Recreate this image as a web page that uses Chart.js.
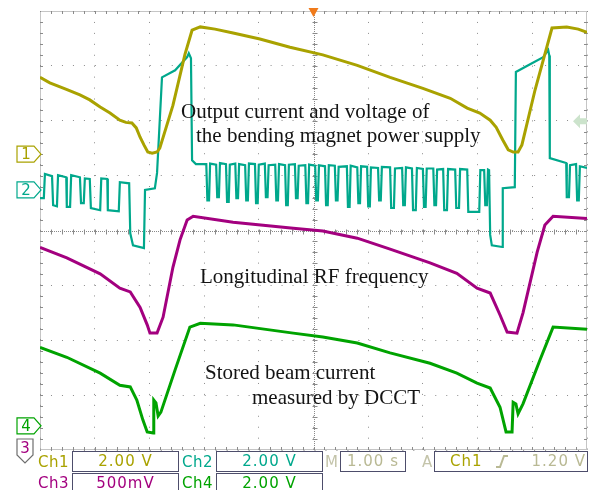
<!DOCTYPE html>
<html>
<head>
<meta charset="utf-8">
<script src="https://cdn.jsdelivr.net/npm/chart.js@4"></script>
<style>
  body { margin: 0; background: #fff; }
  #wrap { position: relative; width: 592px; height: 490px; overflow: hidden; background: #fff; }
  #scope { position: absolute; left: 0; top: 0; }
  .note { position: absolute; font-family: "Liberation Serif", "Times New Roman", serif; font-size: 21px; line-height: 21px; color: #141414; white-space: nowrap; }
  .lbl { position: absolute; font-family: "DejaVu Sans", sans-serif; font-size: 15px; line-height: 20px; letter-spacing: 0.5px; white-space: nowrap; }
  .box { position: absolute; box-sizing: border-box; height: 21px; border: 1.5px solid #4d4d6b; font-family: "DejaVu Sans", sans-serif; font-size: 15px; line-height: 18px; letter-spacing: 1px; text-align: center; white-space: nowrap; }
</style>
</head>
<body>
<div id="wrap">
  <canvas id="scope" width="592" height="490"></canvas>

  <div class="note" style="left:181px; top:101px;">Output current and voltage of</div>
  <div class="note" style="left:196px; top:125px;">the bending magnet power supply</div>
  <div class="note" style="left:200px; top:266px;">Longitudinal RF frequency</div>
  <div class="note" style="left:205px; top:362px;">Stored beam current</div>
  <div class="note" style="left:252px; top:387px;">measured by DCCT</div>

  <div class="lbl" style="left:38px; top:452px; color:#a9a200;">Ch1</div>
  <div class="box" style="left:72px; top:451px; width:107px; color:#a9a200;">2.00 V</div>
  <div class="lbl" style="left:182px; top:452px; color:#00a88c;">Ch2</div>
  <div class="box" style="left:216px; top:451px; width:107px; color:#00a88c;">2.00 V</div>
  <div class="lbl" style="left:325px; top:452px; color:#c4c4aa;">M</div>
  <div class="box" style="left:340px; top:451px; width:66px; color:#b9b994;">1.00 s</div>
  <div class="lbl" style="left:422px; top:452px; color:#c4c4aa;">A</div>
  <div class="box" style="left:434px; top:451px; width:154px; text-align:left;">
    <span style="position:absolute; left:15px; color:#a9a200;">Ch1</span>
    <svg style="position:absolute; left:60px; top:3px;" width="14" height="13"><polyline points="1,12 5,12 9,1 13,1" fill="none" stroke="#b9b994" stroke-width="2"/></svg>
    <span style="position:absolute; right:1px; color:#b9b994;">1.20 V</span>
  </div>

  <div class="lbl" style="left:38px; top:473px; color:#a3007f;">Ch3</div>
  <div class="box" style="left:72px; top:473px; width:107px; color:#a3007f;">500mV</div>
  <div class="lbl" style="left:182px; top:473px; color:#00a300;">Ch4</div>
  <div class="box" style="left:216px; top:473px; width:107px; color:#00a300;">2.00 V</div>
</div>

<script>
// screen units: time in divisions (1.00 s/div, 10 div), level in divisions (8 div)
const ch1Time = [0, 0.18, 0.46, 0.73, 0.91, 1.10, 1.28, 1.46, 1.57, 1.68, 1.76, 1.83, 1.90, 1.97, 2.05, 2.14, 2.19, 2.43, 2.65, 2.78, 2.93, 3.20, 3.53, 4.02, 4.57, 5.17, 5.80, 6.40, 7.00, 7.50, 7.81, 8.04, 8.23, 8.34, 8.46, 8.56, 8.65, 8.74, 8.81, 9.05, 9.27, 9.36, 9.63, 9.84, 10];
const ch1Level = [6.79, 6.69, 6.58, 6.47, 6.38, 6.25, 6.14, 6.01, 5.97, 5.96, 5.87, 5.70, 5.56, 5.43, 5.41, 5.43, 5.50, 6.28, 7.21, 7.65, 7.71, 7.67, 7.60, 7.49, 7.34, 7.20, 7.01, 6.79, 6.59, 6.41, 6.23, 6.14, 6.01, 5.88, 5.65, 5.47, 5.43, 5.43, 5.56, 6.56, 7.36, 7.69, 7.71, 7.67, 7.61];

const ch2Time = [0, 0.07, 0.09, 0.22, 0.24, 0.31, 0.33, 0.48, 0.49, 0.55, 0.57, 0.73, 0.75, 0.80, 0.82, 0.91, 0.93, 1.10, 1.12, 1.23, 1.24, 1.44, 1.46, 1.63, 1.65, 1.70, 1.90, 1.92, 2.10, 2.14, 2.23, 2.47, 2.69, 2.72, 2.76, 2.78, 2.85,
  3.04, 3.06, 3.09, 3.11, 3.22, 3.24, 3.27, 3.29, 3.40, 3.42, 3.45, 3.47, 3.57, 3.59, 3.62, 3.64, 3.75, 3.77, 3.80, 3.82,
  3.93, 3.95, 3.98, 4.00, 4.11, 4.13, 4.16, 4.18, 4.30, 4.32, 4.35, 4.37, 4.48, 4.50, 4.53, 4.55, 4.66, 4.68, 4.71, 4.73,
  4.85, 4.87, 4.90, 4.92, 5.03, 5.05, 5.08, 5.10, 5.21, 5.23, 5.26, 5.28, 5.39, 5.41, 5.44, 5.46, 5.61, 5.63, 5.66, 5.68,
  5.80, 5.82, 5.85, 5.87, 5.98, 6.00, 6.03, 6.05, 6.18, 6.20, 6.23, 6.25, 6.40, 6.42, 6.47, 6.49, 6.62, 6.64, 6.67, 6.69,
  6.80, 6.82, 6.87, 6.89, 7.00, 7.02, 7.05, 7.07, 7.19, 7.21, 7.24, 7.26, 7.37, 7.39, 7.44, 7.46, 7.59, 7.61, 7.66, 7.68,
  7.81, 7.83, 8.03, 8.05, 8.12, 8.14, 8.17, 8.19,
  8.21, 8.23, 8.26, 8.45, 8.46, 8.68, 8.70, 8.96, 9.20, 9.29, 9.31, 9.32, 9.62, 9.63, 9.67, 9.69, 9.80, 9.82, 9.85, 9.87, 10];
const ch2Level = [4.59, 4.59, 5.03, 4.99, 4.46, 4.44, 5.01, 4.97, 4.43, 4.43, 5.01, 4.97, 4.50, 4.50, 4.95, 4.94, 4.41, 4.37, 4.95, 4.94, 4.37, 4.35, 4.88, 4.86, 3.95, 3.73, 3.68, 4.74, 4.77, 5.05, 6.79, 6.92, 7.16, 7.23, 7.14, 5.28, 5.21,
  5.21, 4.55, 4.55, 5.22, 5.20, 4.61, 4.61, 5.23, 5.21, 4.52, 4.52, 5.20, 5.22, 4.59, 4.59, 5.21, 5.19, 4.55, 4.55, 5.22,
  5.21, 4.50, 4.50, 5.20, 5.22, 4.61, 4.61, 5.19, 5.20, 4.55, 4.55, 5.21, 5.19, 4.46, 4.46, 5.20, 5.21, 4.59, 4.59, 5.18,
  5.19, 4.50, 4.50, 5.20, 5.18, 4.55, 4.55, 5.19, 5.17, 4.46, 4.46, 5.19, 5.18, 4.55, 4.55, 5.16, 5.17, 4.43, 4.43, 5.18,
  5.15, 4.50, 4.50, 5.17, 5.16, 4.44, 4.44, 5.15, 5.14, 4.55, 4.55, 5.16, 5.15, 4.41, 4.41, 5.13, 5.14, 4.46, 4.46, 5.15,
  5.13, 4.37, 4.37, 5.14, 5.12, 4.43, 4.43, 5.13, 5.13, 4.46, 4.46, 5.11, 5.12, 4.37, 4.37, 5.12, 5.11, 4.41, 4.41, 5.12,
  5.11, 4.34, 4.34, 5.10, 5.10, 4.46, 4.46, 5.11,
  5.10, 3.92, 3.73, 3.70, 4.77, 4.79, 6.89, 7.03, 7.16, 7.29, 7.19, 5.32, 5.23, 4.61, 4.61, 5.19, 5.21, 4.55, 4.55, 5.17, 5.14];

const ch3Time = [0, 0.49, 1.10, 1.46, 1.65, 1.83, 1.96, 2.01, 2.14, 2.25, 2.43, 2.56, 2.69, 2.80, 3.53, 4.63, 5.17, 5.80, 6.40, 7.13, 7.62, 7.99, 8.23, 8.41, 8.54, 8.72, 8.83, 9.09, 9.23, 9.38, 10];
const ch3Level = [3.69, 3.50, 3.21, 2.95, 2.88, 2.60, 2.28, 2.13, 2.13, 2.42, 3.33, 3.83, 4.19, 4.26, 4.15, 4.04, 3.99, 3.86, 3.66, 3.41, 3.22, 2.95, 2.86, 2.46, 2.15, 2.13, 2.50, 3.61, 4.10, 4.26, 4.22];

const ch4Time = [0, 0.49, 1.10, 1.46, 1.65, 1.77, 1.88, 1.96, 2.07, 2.08, 2.12, 2.16, 2.21, 2.47, 2.74, 2.93, 3.53, 4.63, 5.17, 5.80, 6.40, 7.13, 7.62, 7.99, 8.23, 8.41, 8.52, 8.63, 8.65, 8.70, 8.74, 8.83, 9.14, 9.38, 10];
const ch4Level = [1.87, 1.69, 1.40, 1.18, 1.15, 0.91, 0.55, 0.33, 0.31, 0.91, 0.86, 0.62, 0.69, 1.46, 2.24, 2.31, 2.28, 2.13, 2.06, 1.95, 1.77, 1.58, 1.40, 1.22, 1.13, 0.78, 0.33, 0.33, 0.87, 0.84, 0.66, 0.84, 1.64, 2.24, 2.20];

// channel ground markers (div), trigger position and level
const channelNames = ['1', '2', '3', '4'];
const groundLevels = [5.39, 4.74, -0.3, 0.44];
const triggerTime = 5;
const triggerLevel = 5.99;

const colors = ['#a9a200', '#00a88c', '#a3007f', '#00a300'];

function toPoints(times, levels) {
    return times.map((t, i) => ({ x: t, y: levels[i] }));
}

const scopeDecor = {
    id: 'scopeDecor',
    beforeDatasetsDraw(chart) {
        const ctx = chart.ctx;
        const xs = chart.scales.x, ys = chart.scales.y;
        const { left, right, top, bottom } = chart.chartArea;
        const cx = Math.round(xs.getPixelForValue(5)) + 0.5;
        const cy = Math.round(ys.getPixelForValue(4)) + 0.5;
        ctx.save();
        ctx.strokeStyle = '#8a8a8a';
        ctx.lineWidth = 1;
        ctx.setLineDash([1, 1]);
        ctx.beginPath();
        ctx.rect(left + 0.5, top + 0.5, right - left - 1, bottom - top - 1);
        ctx.moveTo(cx, top); ctx.lineTo(cx, bottom);
        ctx.moveTo(left, cy); ctx.lineTo(right, cy);
        ctx.stroke();
        ctx.setLineDash([]);
        ctx.beginPath();
        for (let i = 1; i < 50; i++) {
            const px = Math.round(xs.getPixelForValue(i / 5)) + 0.5;
            ctx.moveTo(px, top); ctx.lineTo(px, top + 3);
            ctx.moveTo(px, bottom - 3); ctx.lineTo(px, bottom);
            ctx.moveTo(px, cy - 2); ctx.lineTo(px, cy + 3);
        }
        for (let i = 1; i < 40; i++) {
            const py = Math.round(ys.getPixelForValue(i / 5)) + 0.5;
            ctx.moveTo(left, py); ctx.lineTo(left + 3, py);
            ctx.moveTo(right - 3, py); ctx.lineTo(right, py);
            ctx.moveTo(cx - 2, py); ctx.lineTo(cx + 3, py);
        }
        ctx.stroke();
        ctx.restore();
    },
    afterDraw(chart) {
        const ctx = chart.ctx;
        const xs = chart.scales.x, ys = chart.scales.y;
        const { right, top, bottom } = chart.chartArea;
        ctx.save();
        ctx.font = '15px "DejaVu Sans"';
        ctx.textAlign = 'center';
        ctx.textBaseline = 'middle';
        groundLevels.forEach((g, i) => {
            let y = ys.getPixelForValue(g);
            ctx.lineWidth = 1.2;
            ctx.fillStyle = '#fff';
            ctx.beginPath();
            if (y > bottom) {
                ctx.strokeStyle = '#6e6e6e';
                ctx.moveTo(17, 439); ctx.lineTo(33, 439); ctx.lineTo(33, 455);
                ctx.lineTo(25, 463); ctx.lineTo(17, 455); ctx.closePath();
                ctx.fill(); ctx.stroke();
                ctx.fillStyle = colors[i];
                ctx.fillText(channelNames[i], 25, 449);
            } else {
                ctx.strokeStyle = colors[i];
                ctx.moveTo(17, y - 8); ctx.lineTo(34, y - 8); ctx.lineTo(41, y);
                ctx.lineTo(34, y + 8); ctx.lineTo(17, y + 8); ctx.closePath();
                ctx.fill(); ctx.stroke();
                ctx.fillStyle = colors[i];
                ctx.fillText(channelNames[i], 26, y + 1);
            }
        });
        // trigger position
        const tx = xs.getPixelForValue(triggerTime);
        ctx.fillStyle = '#f07a1a';
        ctx.beginPath();
        ctx.moveTo(tx - 5, top - 3); ctx.lineTo(tx + 5, top - 3); ctx.lineTo(tx, top + 6);
        ctx.closePath(); ctx.fill();
        // trigger level
        const ty = ys.getPixelForValue(triggerLevel);
        ctx.fillStyle = '#cce3cc';
        ctx.beginPath();
        ctx.moveTo(right - 14, ty); ctx.lineTo(right - 7, ty - 7); ctx.lineTo(right - 7, ty - 3);
        ctx.lineTo(right, ty - 3); ctx.lineTo(right, ty + 3); ctx.lineTo(right - 7, ty + 3);
        ctx.lineTo(right - 7, ty + 7); ctx.closePath(); ctx.fill();
        ctx.restore();
    }
};

new Chart(document.getElementById('scope'), {
    type: 'line',
    data: {
        datasets: [
            { label: 'Ch1', data: toPoints(ch1Time, ch1Level), borderColor: colors[0], borderWidth: 3 },
            { label: 'Ch2', data: toPoints(ch2Time, ch2Level), borderColor: colors[1], borderWidth: 2.2 },
            { label: 'Ch3', data: toPoints(ch3Time, ch3Level), borderColor: colors[2], borderWidth: 3 },
            { label: 'Ch4', data: toPoints(ch4Time, ch4Level), borderColor: colors[3], borderWidth: 3 }
        ]
    },
    options: {
        responsive: false,
        animation: false,
        events: [],
        layout: { padding: { left: 40, top: 11, right: 5, bottom: 40 } },
        elements: { point: { radius: 0 }, line: { tension: 0, fill: false } },
        plugins: { legend: { display: false }, tooltip: { enabled: false } },
        scales: {
            x: {
                type: 'linear', min: 0, max: 10,
                ticks: { display: false, stepSize: 1 },
                grid: { color: '#8c8c8c', drawTicks: false },
                border: { display: false, dash: [1, 9.94] }
            },
            y: {
                type: 'linear', min: 0, max: 8,
                ticks: { display: false, stepSize: 1 },
                grid: { color: '#8c8c8c', drawTicks: false },
                border: { display: false, dash: [1, 9.98] }
            }
        }
    },
    plugins: [scopeDecor]
});
</script>
</body>
</html>
